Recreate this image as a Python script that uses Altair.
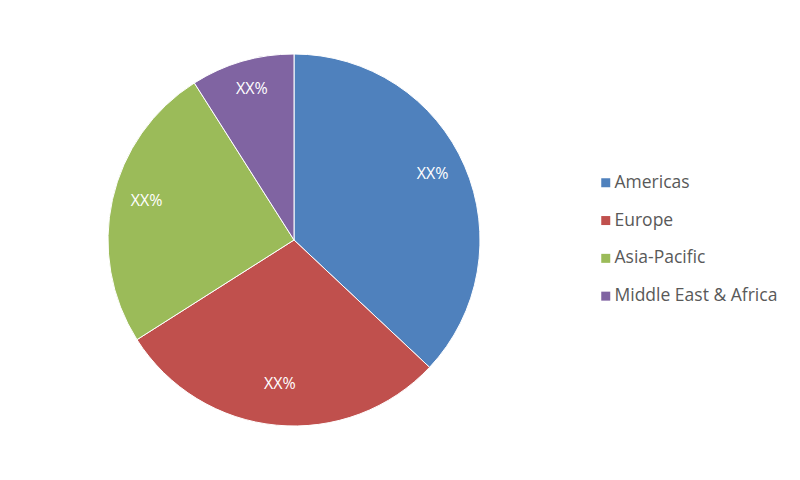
import altair as alt
import pandas as pd

regions = ["Americas", "Europe", "Asia-Pacific", "Middle East & Africa"]
shares = [37, 29, 25, 9]
labels = ["XX%", "XX%", "XX%", "XX%"]
colors = ["#4F81BD", "#C0504D", "#9BBB59", "#8064A2"]

df = pd.DataFrame({
    "region": regions,
    "share": shares,
    "label": labels,
    "order": list(range(len(regions))),
})

base = alt.Chart(df).encode(
    theta=alt.Theta("share:Q", stack=True),
    order=alt.Order("order:Q"),
)

color = alt.Color(
    "region:N",
    scale=alt.Scale(domain=regions, range=colors),
    sort=regions,
    legend=alt.Legend(
        title=None,
        orient="none",
        legendX=589,
        legendY=166,
        symbolType="square",
        symbolSize=81,
        symbolStrokeWidth=0,
        labelFont="Open Sans",
        labelFontSize=17.5,
        labelColor="#595959",
        labelLimit=300,
        rowPadding=18.8,
        labelOffset=0,
    ),
)

pie = base.mark_arc(outerRadius=186, stroke="white", strokeWidth=1).encode(color=color)

text = base.mark_text(radius=151, dy=-6, font="Open Sans", fontSize=16, color="white").encode(
    text="label:N"
)

chart = (
    alt.layer(pie, text)
    .properties(width=572, height=464, padding=0)
    .configure_view(stroke=None)
    .configure(background="white")
)

chart.save("out.html", embed_options={"renderer": "svg", "actions": False})
